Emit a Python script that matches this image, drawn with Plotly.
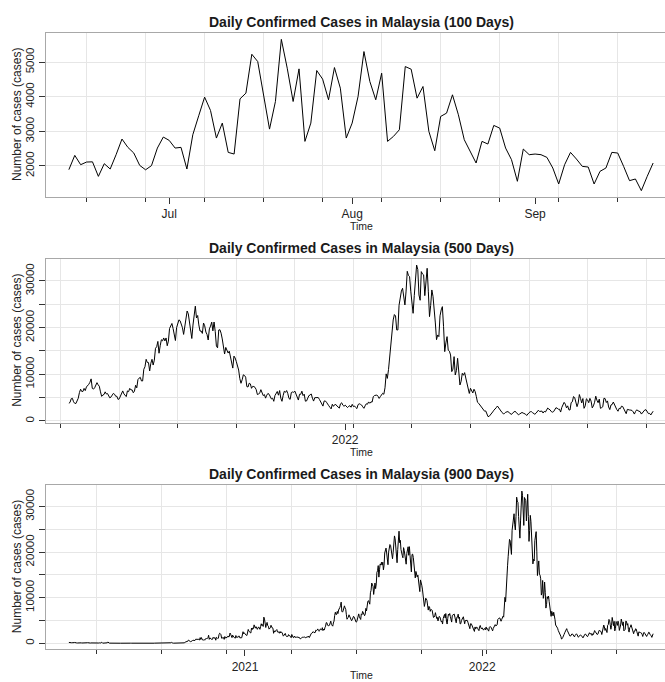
import pandas as pd
import plotly.graph_objects as go

# ---------------- data (daily confirmed cases, Malaysia) ----------------
END_DATE = "2022-09-21"
WINDOWS = [100, 500, 900]
TITLES = [f"Daily Confirmed Cases in Malaysia ({n} Days)" for n in WINDOWS]
Y_TITLE = "Number of cases (cases)"
X_TITLE = "Time"

# 2020-04-05 .. 2020-12-31
cases_2020 = [
    179, 131, 170, 156, 109, 118, 184, 153, 134, 170, 85, 110, 69, 54, 84, 36, 57, 50, 71, 88, 51, 38, 40, 31, 94, 57,
    69, 105, 105, 122, 55, 30, 45, 39, 68, 54, 67, 70, 16, 37, 40, 36, 17, 22, 47, 37, 50, 78, 48, 60, 172, 187, 15, 10, 30, 38, 20,
    38, 20, 93, 277, 19, 37, 19, 7, 2, 31, 8, 22, 10, 41, 9, 31, 16, 41, 17, 6, 15, 5, 3, 4, 13, 6, 5, 3, 4, 2,
    3, 3, 3, 4, 2, 3, 5, 8, 13, 10, 6, 7, 3, 4, 5, 8, 10, 7, 9, 11, 15, 6, 11, 5, 21, 13, 12, 4, 7, 8, 3,
    4, 7, 5, 4, 15, 17, 14, 17, 8, 21, 16, 18, 9, 7, 21, 18, 4, 15, 7, 8, 10, 11, 14, 11, 22, 11, 12, 11, 9, 6, 6,
    6, 5, 9, 7, 13, 62, 100, 5, 100, 182, 26, 28, 14, 13, 10, 9, 21, 13, 52, 57, 24, 82, 147, 71, 111, 115, 150, 115, 101, 89,
    260, 287, 317, 293, 432, 691, 489, 375, 354, 374, 563, 561, 660, 660, 629, 589, 869, 871, 865, 862, 732, 847, 710, 1228, 823, 1240, 835, 801, 649, 799, 659,
    957, 1054, 1028, 1032, 1168, 1755, 852, 1168, 972, 869, 822, 869, 1304, 1109, 1208, 1207, 659, 1290, 1208, 1041, 1096, 1884, 2188, 2089, 1884, 1109, 1075, 1315, 1212, 851,
    1472, 1141, 1193, 1123, 1335, 1600, 1340, 1581, 2234, 1937, 1219, 1229, 1772, 1371, 1295, 1220, 1104, 1689, 1286, 1393, 1259, 1526, 1599, 1191, 1289, 1196, 1209, 1925, 2525, 2068, 2295,
]

# 2021-01-01 .. 2021-12-31
cases_2021 = [
    2068, 1704, 1741, 1704, 2593, 3027, 2643, 2451, 2433, 2232, 3309, 2985, 3337, 3211, 4029, 3339, 3306, 3631, 3170, 3048, 3346, 3585, 3346, 3048, 3631, 4275, 3885, 4094, 3680, 5728, 5298,
    4214, 3455, 4284, 4571, 3847, 3731, 3100, 3288, 3384, 3945, 3499, 3342, 3297, 2176, 2720, 2461, 2712, 2936, 3005, 2464, 2437, 2468, 2192, 2578, 2253, 2461, 2364, 1828,
    1555, 1745, 2063, 2154, 1680, 1529, 1365, 1529, 1894, 1575, 1680, 1538, 1208, 1924, 1362, 1290, 1213, 1575, 1316, 1222, 1311, 1371, 1292, 1260, 1248, 1221, 941, 1180, 1165, 1291, 1224,
    1309, 1349, 1383, 1189, 1307, 1288, 1426, 1318, 1568, 1246, 1613, 1935, 2148, 2195, 2331, 2551, 2341, 2331, 2341, 2875, 2776, 2888, 3142, 2776, 2620, 2848, 3142, 3032, 2881, 3418,
    2776, 3120, 2888, 3418, 3744, 4519, 4498, 3953, 3899,
    3807, 3973, 4765, 4855, 4113, 3780, 3744, 4446, 4865, 6075, 6806, 6320, 6320, 6976, 6509, 7289, 7478, 7857, 8290, 9020, 6999, 6824,
    7105, 7703, 8209, 7748, 7452, 6241, 5271, 5566, 5671, 6239, 5793, 5868, 5419, 4949, 5150, 5419, 5911, 5738, 5293, 5293, 4611, 4743, 5244, 5841, 6440, 5803, 5586, 5218, 6437, 6276,
    6988, 6658, 6658, 6045, 6387, 7654, 7097, 8868, 9180, 9353, 8574, 8574, 11079, 11618, 13215, 12541, 12510, 10710, 12366, 13215, 11985, 13034, 15573, 15902, 17045, 14516, 16117, 17405, 17170, 17786, 17150,
    17786, 16117, 17105, 19819, 20596, 20889, 19819, 18688, 17236, 19991, 20780, 21668, 21468, 20670, 19990, 18547, 19963, 22242, 23564, 22948, 21246, 19268, 17672, 20546, 22597, 24599, 22070, 22597, 20579, 19268, 19268,
    18762, 20988, 20396, 19057, 18547, 17352, 19733, 20330, 21176, 19307, 21200, 19198, 16073, 15669, 19495, 19550, 18815, 17577, 15549, 14345, 15759, 14990, 14554, 14954, 13899, 12434, 11332, 13899, 13491, 12735,
    11889, 10915, 9066, 8075, 8817, 9890, 9751, 9380, 7373, 7276, 8096, 7950, 6996, 7420, 7373, 7202, 6709, 5666, 5745, 6017, 6709, 6065, 5434, 5666, 4891, 5524, 5905, 5726, 5217, 4715, 4879,
    4213, 5446, 5809, 6323, 5525, 6517, 4879, 4213, 5446, 6373, 6145, 6517, 5859, 4813, 4643, 6099, 6217, 6144, 6398, 5713, 5004, 4484, 5715, 5713, 6380, 5439, 5745, 4239, 4289, 4962,
    5439, 5551, 5806, 4896, 4262, 4985, 5020, 5004, 5020, 4612, 4135, 3900, 3187, 4262, 4300, 4013, 3510, 3262, 2920, 2589, 3576, 3140, 3490, 3525, 3203, 2917, 2757, 3683, 3900, 3386, 3140,
]

# 2022-01-01 .. 2022-09-21
cases_2022 = [
    3386, 3060, 2874, 3141, 3270, 2944, 3566, 3097, 3207, 2888, 2651, 3500, 3684, 3567, 3422, 3030, 2714, 3251, 3680, 3590, 4083, 3800, 4093, 4046, 5214, 5439, 5522, 5566, 5306, 4830, 5214,
    5531, 5929, 5720, 7110, 10089, 9117, 11034, 13944, 17000, 19090, 21643, 22802, 22500, 19500, 19500, 24800, 26701, 27831, 28429, 26000, 24857, 27831, 32070, 31199, 30929, 27808, 25099, 23071,
    26856, 30787, 33406, 32467, 27000, 25864, 32000, 31490, 31300, 26856, 30787, 32714, 27808, 22357, 24762, 28071, 26701, 22535, 21000, 17416, 18429, 18071, 22535, 23786, 24500, 20214, 14857, 16723, 18071, 15176, 14944,
    14143, 10571, 11100, 13786, 9857, 10800, 13429, 11200, 7714, 8500, 10214, 9800, 10357, 9200, 8000, 7357, 5900, 7000, 6500, 6000, 6800, 6300, 5214, 4000, 3786, 3429, 3300, 2800, 2500, 2100,
    2153, 1523, 929, 1000, 1275, 1500, 1942, 2306, 2527, 2845, 3199, 2785, 2393, 2037, 1799, 1555, 1580, 1864, 2039, 2017, 1786, 1522, 1394, 1715, 1950, 2076, 1869, 1633, 1307, 1491, 1712,
    1824, 1690, 1613, 1469, 1173, 1586, 1767, 1971, 2003, 1788, 1681, 1437, 1670,
    1893, 2307, 2037, 2114, 2120, 1700, 2066, 1912, 2326, 2778, 2538, 2374, 2018, 1890, 2010, 2518, 2836,
    2740, 2518, 2538, 1912, 2903, 3451, 3990, 3605, 2807, 3240, 2393, 2345, 3941, 4105, 5229, 5018, 4057, 3066, 3864, 5660, 4826, 3864, 4807, 2711, 3240, 4759, 4510, 3913, 4845, 4249, 2807,
    3240, 4009, 5307, 4441, 3913, 4682, 2711, 2855, 3047, 4874, 4797, 3960, 4297, 2999, 2441, 3432, 3528, 4057, 3480, 2759, 2422, 2086, 2711, 2634, 3172, 3095, 2518, 2182, 1557, 2489, 2326,
    2345, 2326, 2249, 1941, 1480, 2037, 2393, 2201, 1989, 1970, 1480, 1845, 1941, 2393, 2374, 1989, 1576, 1624, 1287, 1701, 2086,
]

cases = cases_2020 + cases_2021 + cases_2022
dates = pd.date_range(end=END_DATE, periods=len(cases), freq="D")

# ---------------- layout geometry ----------------
FIG_W, FIG_H = 665, 682
PLOT_LEFT = 45.5
PLOT_RIGHT_FULL = 676.5          # the original plot region runs past the image edge
PANEL_TOPS = [33.3, 259.0, 485.0]
PANEL_BOTTOMS = [196.7, 422.7, 649.3]
TIME_OFFSETS = [29, 29, 25.5]
GRID_DAYS = [10, 50, 100]
MAJOR_DTICK = ["M1", "M12", "M12"]
MAJOR_FMT = ["%b", "%Y", "%Y"]
Y_MAJOR = [1000, 10000, 10000]
Y_MINOR = [None, 5000, 5000]

FONT = "Liberation Sans, Arial, sans-serif"
GRID = "#e6e6e6"
BOX = "#a8a8a8"
TICK = "#333333"
DAY_MS = 86400000

fig = go.Figure()
layout = dict(
    width=FIG_W, height=FIG_H, margin=dict(l=0, r=0, t=0, b=0),
    paper_bgcolor="white", plot_bgcolor="white", showlegend=False,
    font=dict(family=FONT, color="#222222"),
)
annotations = []

def py(px):
    return 1 - px / FIG_H

for p, n in enumerate(WINDOWS):
    s = "" if p == 0 else str(p + 1)
    d = dates[-n:]
    v = cases[-n:]
    fig.add_trace(go.Scatter(x=d, y=v, mode="lines", line=dict(color="black", width=1),
                             xaxis=f"x{s}", yaxis=f"y{s}", hoverinfo="skip"))

    span = d[-1] - d[0]
    pad = span * 0.04
    x0 = d[0] - pad
    full = span + 2 * pad
    x1 = x0 + full * ((FIG_W - PLOT_LEFT) / (PLOT_RIGHT_FULL - PLOT_LEFT))
    vmin, vmax = min(v), max(v)
    ypad = 0.04 * (vmax - vmin)

    xa = dict(
        domain=[PLOT_LEFT / FIG_W, 1.0], type="date", anchor=f"y{s}",
        range=[x0.strftime("%Y-%m-%d %H:%M:%S"), x1.strftime("%Y-%m-%d %H:%M:%S")],
        showline=True, linecolor=BOX, linewidth=1, mirror=True,
        ticks="outside", ticklen=6, tickwidth=1, tickcolor=TICK,
        dtick=MAJOR_DTICK[p], tick0="2000-01-01", tickformat=MAJOR_FMT[p],
        showgrid=False, zeroline=False,
        tickfont=dict(size=12, color="#222222", family=FONT),
        minor=dict(tick0="1970-01-01", dtick=GRID_DAYS[p] * DAY_MS, ticks="outside",
                   ticklen=4, tickcolor=TICK, showgrid=True, gridcolor=GRID, gridwidth=1),
    )
    ya = dict(
        domain=[py(PANEL_BOTTOMS[p]), py(PANEL_TOPS[p])], anchor=f"x{s}",
        range=[vmin - ypad, vmax + ypad],
        showline=True, linecolor=BOX, linewidth=1,
        ticks="outside", ticklen=6, tickwidth=1, tickcolor=TICK,
        dtick=Y_MAJOR[p], tick0=0, tickformat="d", tickangle=-90,
        showgrid=True, gridcolor=GRID, gridwidth=1, zeroline=False,
        tickfont=dict(size=11.5, color="#222222", family=FONT),
    )
    if Y_MINOR[p]:
        ya["minor"] = dict(dtick=Y_MINOR[p], tick0=0, ticks="outside", ticklen=6,
                           tickcolor=TICK, showgrid=True, gridcolor=GRID, gridwidth=1)
    layout[f"xaxis{s}"] = xa
    layout[f"yaxis{s}"] = ya

    cx = (PLOT_LEFT + PLOT_RIGHT_FULL) / 2 / FIG_W
    annotations.append(dict(text=f"<b>{TITLES[p]}</b>", x=cx, y=py(PANEL_TOPS[p] - 11),
                            xref="paper", yref="paper", xanchor="center", yanchor="middle",
                            showarrow=False, font=dict(size=14, color="#1a1a1a", family=FONT)))
    annotations.append(dict(text=X_TITLE, x=cx, y=py(PANEL_BOTTOMS[p] + TIME_OFFSETS[p]),
                            xref="paper", yref="paper", xanchor="center", yanchor="middle",
                            showarrow=False, borderpad=0,
                            font=dict(size=10.5, color="#222222", family=FONT)))
    annotations.append(dict(text=Y_TITLE, x=17 / FIG_W,
                            y=py((PANEL_TOPS[p] + PANEL_BOTTOMS[p]) / 2),
                            xref="paper", yref="paper", xanchor="center", yanchor="middle",
                            textangle=-90, showarrow=False,
                            font=dict(size=12, color="#222222", family=FONT)))

layout["annotations"] = annotations
fig.update_layout(**layout)
fig.write_html("out.html")
